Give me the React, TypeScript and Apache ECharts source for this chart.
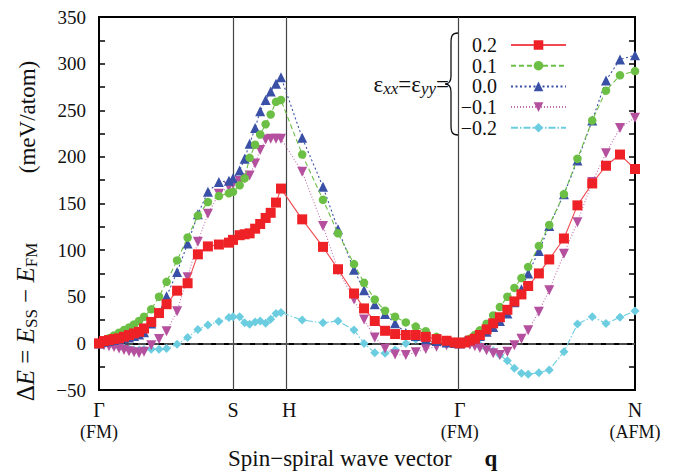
import React, { useEffect, useRef } from "react";
import * as echarts from "echarts";

// q along the path Γ(0) → S → H → Γ → N(1), normalised path length
const qGrid = [0, 0.0093, 0.0187, 0.028, 0.0374, 0.0467, 0.056, 0.0654, 0.0747, 0.084,
  0.0975, 0.112, 0.1261, 0.1457, 0.1653, 0.1845, 0.2032, 0.2237, 0.2424, 0.25,
  0.2624, 0.2717, 0.281, 0.2913, 0.3007, 0.3109, 0.3203, 0.3302, 0.3395,
  0.3791, 0.4179, 0.4459, 0.4758, 0.4945, 0.5145, 0.5337, 0.5524, 0.5724, 0.591, 0.6097, 0.6297, 0.6484, 0.6639, 0.6732,
  0.6825, 0.6919, 0.7012, 0.7106, 0.7231, 0.7354, 0.7479, 0.7619, 0.775, 0.7881, 0.8007, 0.8207, 0.84, 0.8674, 0.8926, 0.9202, 0.9459, 0.972, 1.0];

const strainNames = ["0.2", "0.1", "0.0", "\u22120.1", "\u22120.2"];

const eP02 = [0, 2.5, 3.5, 4.6, 5.4, 7.1, 8.9, 10.7, 12.4, 16,
  23, 32.5, 42, 56.5, 64.5, 95.5, 104, 106, 108, 111,
  116, 117, 118, 123, 128, 134.5, 140, 151, 166,
  133, 103.5, 79.5, 53.5, 37.5, 24, 13.5, 10, 9, 9, 7, 4.6, 2.8, 1, 0,
  1, 3, 5, 9, 15, 21.5, 28, 36, 45, 52.5, 61.5, 75, 90, 112.5, 148, 171.5, 190.5, 202.5, 187];

const eP01 = [0, 3, 5.5, 8.5, 11.4, 14.3, 17, 20.3, 24, 28.5,
  36.5, 50, 66, 89, 113.5, 137, 151.5, 158, 161, 162.5,
  169.5, 177, 199, 213, 224, 235, 245.5, 259, 261,
  202.5, 154, 118, 85, 65, 47, 35, 28.5, 22.5, 18, 13, 7, 3.5, 1.5, 0,
  2, 5, 9, 14, 21, 30, 39, 50, 59.5, 70, 82, 104.5, 127, 160, 198, 239, 271, 287.5, 292];

const eP00 = [0, 1.7, 2.5, 3.5, 4.6, 5.4, 6.4, 7.8, 9.6, 11.8,
  21.4, 33, 50.5, 76.5, 107, 138.5, 162.5, 173, 174.5, 177,
  185.5, 198, 214, 231, 249, 261, 270, 278.5, 285.5,
  220.5, 168, 122.5, 79, 57, 42, 31.5, 21.5, 11, 8, 4.5, 2.5, 1, 0.5, 0,
  2.5, 4, 5.5, 8, 12.4, 17.5, 24, 32, 44, 58, 75, 99, 126, 160, 196, 239, 282, 304.5, 309];

const eM01 = [-1, -2, -3, -4, -5.5, -7, -8.5, -9.5, -10.5, -9,
  -2, 4.6, 13, 34.5, 71, 109, 139, 160.5, 168, 171,
  174, 177, 180, 193, 207.5, 218.5, 219.5, 219.5, 219.5,
  184, 126, 78.5, 47, 25.7, 6.4, -5.4, -12, -12.5, -9.5, -6, -3.5, -2, -1, 0,
  -0.5, -1.5, -3, -5, -7.5, -10.5, -12.5, -9, -2, 5, 14, 34, 57, 96, 130, 173, 204, 231, 242];

const eM02 = [0, 0, -1, -2, -3.5, -5, -6, -7, -7, -6.5,
  -6.2, -6.4, -5.5, -1, 6.4, 15, 19.6, 23.5, 27.7, 28.5,
  28.5, 22, 20.5, 23, 24, 21.5, 26, 32, 33,
  25, 22, 24, 14.3, 0, -10, -10.7, -7, 0, 4.5, 1.7, 1.7, 0.6, 0.5, 0,
  0, 0, -1, -1.8, -5.4, -8, -12.5, -18.6, -26.8, -32, -33, -31.5, -28.5, -9, 20.7, 28.5, 21.4, 28, 34.6];

const highSymPos = [0, 0.25, 0.3548, 0.6732, 1];
const highSymLabels = ["{a|\u0393}\n{b|(FM)}", "{a|S}", "{a|H}", "{a|\u0393}\n{b|(FM)}", "{a|N}\n{b|(AFM)}"];
const yTicks = { min: -50, max: 350, step: 50 };

const SERIF = "'Liberation Serif', 'Times New Roman', serif";

const BRACE = "M13,0 C7,0 6,3 6,10 L6,43 C6,48 4,51 0,51 C4,51 6,54 6,59 L6,92 C6,99 7,102 13,102";
let braceRegistered = false;

function pairs(ys: number[]) {
  return ys.map((y, i) => [qGrid[i], y]);
}

export default function App() {
  const ref = useRef<HTMLDivElement>(null);
  useEffect(() => {
    if (!ref.current) return;
    if (!braceRegistered) {
      echarts.graphic.registerShape("brace", echarts.graphic.extendPath(BRACE, {}) as any);
      braceRegistered = true;
    }
    const chart = echarts.init(ref.current, null, { renderer: "svg" });
    const styles = [
      { color: "#ee2226", line: "#f04a50", type: "solid", symbol: "rect", size: 10 },
      { color: "#6cbf45", line: "#6cbf45", type: [5, 3], symbol: "circle", size: 8.5 },
      { color: "#3a50a6", line: "#3a50a6", type: [2, 2.5], symbol: "triangle", size: 10 },
      { color: "#b5509e", line: "#c070b0", type: [1, 2], symbol: "path://M0,0 L10,0 L5,9 Z", size: 10 },
      { color: "#6ccde0", line: "#6ccde0", type: [7, 2, 1.5, 2], symbol: "diamond", size: 9 },
    ];
    const datas = [eP02, eP01, eP00, eM01, eM02];
    const series: any[] = datas.map((d, i) => ({
      name: strainNames[i],
      type: "line",
      data: pairs(d),
      symbol: styles[i].symbol,
      symbolSize: styles[i].size,
      itemStyle: { color: styles[i].color },
      lineStyle: { color: styles[i].line, width: 1.1, type: styles[i].type },
      z: 3 + (4 - i) * 0.1,
    }));
    series[0].markLine = {
      silent: true,
      symbol: ["none", "none"],
      label: { show: false },
      data: [
        { xAxis: highSymPos[1], lineStyle: { color: "#444", type: "solid", width: 1.2 } },
        { xAxis: highSymPos[2], lineStyle: { color: "#444", type: "solid", width: 1.2 } },
        { xAxis: highSymPos[3], lineStyle: { color: "#444", type: "solid", width: 1.2 } },
        { yAxis: 0, lineStyle: { color: "#666", type: [8, 5], width: 1.5 } },
      ],
      z: 1,
    };
    const yAxisBase = {
      type: "value",
      min: yTicks.min,
      max: yTicks.max,
      interval: yTicks.step,
      splitLine: { show: false },
      axisLine: { show: true, onZero: false, lineStyle: { color: "#000", width: 2 } },
      axisTick: { show: true, inside: true, length: 6, lineStyle: { color: "#000", width: 1.5 } },
      minorTick: { show: true, splitNumber: 2, length: 6, lineStyle: { color: "#000", width: 1.5 } },
    };
    chart.setOption({
      animation: false,
      backgroundColor: "#fff",
      grid: { left: 99, right: 44, top: 17, bottom: 82, show: true, borderColor: "#000", borderWidth: 2 },
      legend: {
        orient: "vertical",
        right: 112,
        top: 35,
        align: "right",
        padding: 0,
        itemWidth: 55,
        itemHeight: 12,
        itemGap: 0.7,
        data: strainNames,
        textStyle: { fontFamily: SERIF, fontSize: 20, color: "#111", lineHeight: 20, padding: [0, 9, 0, 0] },
      },
      xAxis: [
        {
          type: "value",
          min: 0,
          max: 1,
          splitLine: { show: false },
          axisLine: { show: true, onZero: false, lineStyle: { color: "#000", width: 2 } },
          axisTick: { show: false },
          axisLabel: {
            customValues: highSymPos,
            margin: 9,
            formatter: (v: number) => {
              let best = 0;
              highSymPos.forEach((p, i) => {
                if (Math.abs(p - v) < Math.abs(highSymPos[best] - v)) best = i;
              });
              return highSymLabels[best];
            },
            rich: {
              a: { fontFamily: SERIF, fontSize: 20, lineHeight: 22, color: "#111" },
              b: { fontFamily: SERIF, fontSize: 18, lineHeight: 22, color: "#111" },
            },
          },
        },
        {
          type: "value",
          position: "top",
          min: 0,
          max: 1,
          splitLine: { show: false },
          axisLine: { show: true, lineStyle: { color: "#000", width: 2 } },
          axisTick: { show: false },
          axisLabel: { show: false },
        },
      ],
      yAxis: [
        {
          ...yAxisBase,
          axisLabel: {
            margin: 13,
            fontFamily: SERIF,
            fontSize: 19,
            color: "#111",
            formatter: (v: number) => (v < 0 ? "\u2212" + Math.abs(v) : String(v)),
          },
        },
        { ...yAxisBase, position: "right", axisLabel: { show: false } },
      ],
      series,
      graphic: [
        {
          type: "text",
          x: 25,
          y: 322,
          rotation: Math.PI / 2,
          style: {
            text: "{n|\u0394}{i|E}{n| = }{i|E}{s|SS}{n| \u2212 }{i|E}{s|FM}",
            align: "center",
            verticalAlign: "middle",
            rich: {
              n: { fontFamily: SERIF, fontSize: 25, lineHeight: 30, fill: "#111" },
              i: { fontFamily: SERIF, fontSize: 25, fontStyle: "italic", lineHeight: 30, fill: "#111" },
              s: { fontFamily: SERIF, fontSize: 17, lineHeight: 17, verticalAlign: "bottom", fill: "#111" },
            },
          },
        },
        {
          type: "text",
          x: 27,
          y: 117,
          rotation: Math.PI / 2,
          style: {
            text: "(meV/atom)",
            align: "center",
            verticalAlign: "middle",
            fontFamily: SERIF,
            fontSize: 23,
            fill: "#111",
          },
        },
        {
          type: "text",
          x: 228,
          y: 458,
          style: {
            text: "Spin\u2212spiral wave vector",
            align: "left",
            verticalAlign: "middle",
            fontFamily: SERIF,
            fontSize: 23,
            fill: "#111",
          },
        },
        {
          type: "text",
          x: 491,
          y: 458,
          style: {
            text: "q",
            align: "center",
            verticalAlign: "middle",
            fontFamily: SERIF,
            fontSize: 23,
            fontWeight: "bold",
            fill: "#111",
          },
        },
        {
          type: "text",
          x: 449,
          y: 84,
          style: {
            text: "{e|\u03b5}{s|xx}{e|=\u03b5}{s|yy}{e|=}",
            align: "right",
            verticalAlign: "middle",
            rich: {
              e: { fontFamily: SERIF, fontSize: 23, lineHeight: 26, fill: "#111" },
              s: { fontFamily: SERIF, fontSize: 17, fontStyle: "italic", lineHeight: 17, verticalAlign: "bottom", fill: "#111" },
            },
          },
        },
        {
          type: "brace",
          x: 445,
          y: 33,
          style: { fill: "none", stroke: "#111", lineWidth: 1.3 },
        } as any,
      ],
    });
    return () => chart.dispose();
  }, []);
  return <div ref={ref} style={{ position: "fixed", left: 0, top: 0, width: 679, height: 472 }} />;
}
